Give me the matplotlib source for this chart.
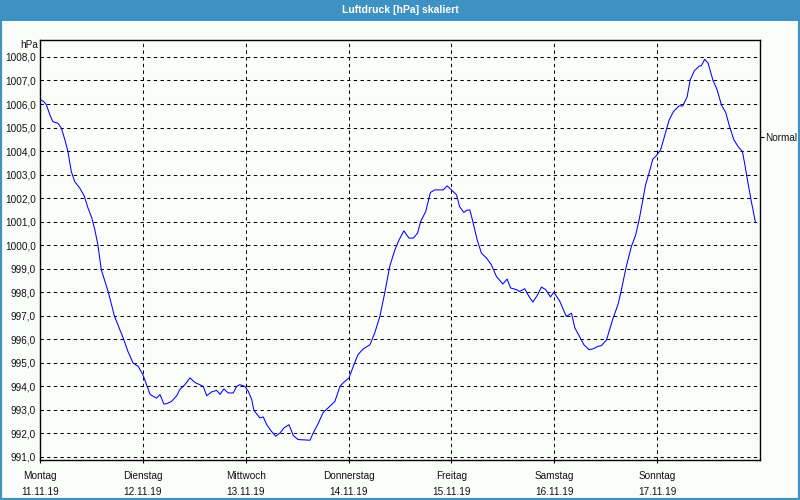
import matplotlib
matplotlib.use("Agg")
import matplotlib.pyplot as plt
from matplotlib.patches import Rectangle

# ---- data (hours since Monday 11.11.19 00:00, pressure in hPa) ----
hours = [0.2, 0.9, 1.5, 2.3, 3.0, 4.2, 5.0, 5.8, 6.5, 7.3, 8.1, 9.3, 10.3, 11.2, 12.1,
         12.8, 13.5, 14.3, 15.9, 17.4, 19.4, 20.5, 21.7, 22.9, 24.0, 25.0, 25.7, 26.4,
         27.2, 28.0, 28.9, 29.5, 30.7, 31.9, 32.6, 33.8, 35.0, 36.1, 37.3, 38.1, 38.9,
         40.0, 41.2, 42.0, 42.9, 43.9, 45.1, 45.9, 46.6, 47.8, 48.6, 49.4, 49.9, 50.5,
         51.3, 52.1, 52.9, 54.0, 55.0, 56.0, 56.9, 58.1, 59.1, 60.2, 63.0, 63.7, 64.9,
         66.1, 67.2, 68.8, 70.0, 70.7, 72.1, 73.1, 74.2, 75.4, 77.0, 78.1, 79.3, 80.5,
         81.6, 82.8, 83.8, 84.9, 86.1, 87.1, 88.1, 88.8, 90.0, 91.1, 92.1, 94.1, 95.0,
         96.0, 97.2, 97.9, 98.9, 99.5, 100.3, 101.0, 102.0, 103.0, 104.2, 105.3, 106.5,
         108.0, 109.0, 109.8, 111.2, 111.9, 113.1, 114.1, 115.0, 116.1, 117.0, 118.0,
         119.1, 119.9, 121.3, 122.8, 124.0, 124.8, 125.9, 126.9, 128.1, 129.0, 130.2,
         131.0, 132.2, 133.6, 134.9, 135.6, 136.8, 138.0, 139.0, 139.8, 140.6, 141.3,
         142.1, 143.0, 143.8, 144.8, 145.6, 146.8, 147.8, 149.1, 150.0, 151.0, 151.7,
         152.7, 153.9, 154.3, 155.1, 155.9, 157.0, 158.0, 159.0, 160.0, 160.9, 161.9,
         162.9, 163.9, 164.4, 165.2, 165.9, 166.9]
pressure = [1006.17, 1006.1, 1005.96, 1005.54, 1005.25, 1005.18, 1004.97, 1004.48, 1004.0,
            1003.13, 1002.7, 1002.42, 1002.1, 1001.58, 1001.15, 1000.65, 1000.02, 998.96,
            998.03, 996.97, 996.06, 995.49, 995.0, 994.85, 994.5, 994.0, 993.65, 993.58,
            993.5, 993.65, 993.25, 993.26, 993.36, 993.6, 993.86, 994.07, 994.36, 994.17,
            994.07, 994.0, 993.6, 993.76, 993.83, 993.66, 993.89, 993.72, 993.72, 994.0,
            994.07, 994.0, 993.79, 993.44, 992.98, 992.84, 992.66, 992.7, 992.37, 992.09,
            991.88, 992.02, 992.23, 992.37, 991.91, 991.74, 991.71, 992.0, 992.42, 992.9,
            993.08, 993.36, 994.0, 994.14, 994.36, 994.85, 995.35, 995.59, 995.77, 996.27,
            996.97, 998.03, 999.1, 999.8, 1000.23, 1000.61, 1000.3, 1000.3, 1000.51, 1001.0,
            1001.43, 1002.24, 1002.35, 1002.35, 1002.52, 1002.35, 1002.14, 1001.64, 1001.39,
            1001.48, 1001.5, 1001.0, 1000.23, 999.66, 999.45, 999.17, 998.67, 998.35,
            998.56, 998.18, 998.11, 998.03, 998.15, 997.82, 997.58, 997.89, 998.22, 998.11,
            997.8, 998.0, 997.61, 996.97, 997.11, 996.48, 996.12, 995.77, 995.56, 995.59,
            995.7, 995.73, 995.98, 996.83, 997.5, 998.05, 999.1, 999.95, 1000.44, 1001.08,
            1001.86, 1002.57, 1003.06, 1003.66, 1003.8, 1004.05, 1004.55, 1005.32, 1005.68,
            1005.92, 1005.92, 1006.31, 1007.02, 1007.42, 1007.62, 1007.62, 1007.9, 1007.73,
            1007.02, 1006.6, 1005.96, 1005.64, 1005.04, 1004.48, 1004.19, 1003.98, 1003.49,
            1002.64, 1001.93, 1001.0]
day_names = ["Montag", "Dienstag", "Mittwoch", "Donnerstag", "Freitag", "Samstag", "Sonntag"]
day_dates = ["11.11.19", "12.11.19", "13.11.19", "14.11.19", "15.11.19", "16.11.19", "17.11.19"]
y_ticks = list(range(991, 1009))
normal_value = 1004.6
title = "Luftdruck [hPa] skaliert"
unit = "hPa"

# ---- styling ----
plt.rcParams['font.family'] = ['Liberation Sans', 'DejaVu Sans']
plt.rcParams['lines.scale_dashes'] = False
BG = '#fafdfa'
BAR = '#3d91c3'
TXT = '#111111'

fig = plt.figure(figsize=(8, 5), dpi=100, facecolor=BG)
ax = fig.add_axes([40/800, 40/500, 720/800, 420/500])
ax.set_facecolor(BG)

days = [h / 24.0 for h in hours]
ax.plot(days, pressure, color='#0000ff', lw=0.75, zorder=3)

ax.set_xlim(0, 7)
ax.set_ylim(990.87, 1008.72)

ax.set_yticks(y_ticks)
ax.set_yticklabels([f"{v},0" for v in y_ticks], fontsize=7.2, color=TXT)
ax.set_xticks(range(len(day_names)))
ax.set_xticklabels([f"{n}\n{d}" for n, d in zip(day_names, day_dates)],
                   fontsize=7.2, color=TXT, linespacing=1.75)
ax.tick_params(axis='y', length=0, pad=3)
ax.tick_params(axis='x', length=2, width=0.8, pad=6, color='black')

ax.grid(True, color='black', lw=0.75, dashes=(2.4, 2.4), zorder=1)
for s in ax.spines.values():
    s.set_color('black')
    s.set_linewidth(1.0)

# right side "Normal" marker
ax2 = ax.twinx()
ax2.set_ylim(ax.get_ylim())
ax2.set_yticks([normal_value])
ax2.set_yticklabels(["Normal"], fontsize=7.2, color=TXT)
ax2.tick_params(axis='y', length=3, width=0.8, pad=1)
for s in ax2.spines.values():
    s.set_visible(False)

ax.text(-0.003, 1.0, unit, transform=ax.transAxes, ha='right', va='top',
        fontsize=7.2, color=TXT)

# title bar and border
fig.add_artist(Rectangle((0, 1 - 21/500), 1, 21/500, transform=fig.transFigure,
                         facecolor=BAR, edgecolor='none', zorder=5))
fig.text(0.5, 1 - 10/500, title, ha='center', va='center', color='white',
         fontsize=7.5, fontweight='bold', zorder=6)
fig.add_artist(Rectangle((0, 0), 1, 1, transform=fig.transFigure, fill=False,
                         edgecolor=BAR, lw=3, zorder=5))

fig.savefig("out.png", dpi=100, facecolor=BG)
